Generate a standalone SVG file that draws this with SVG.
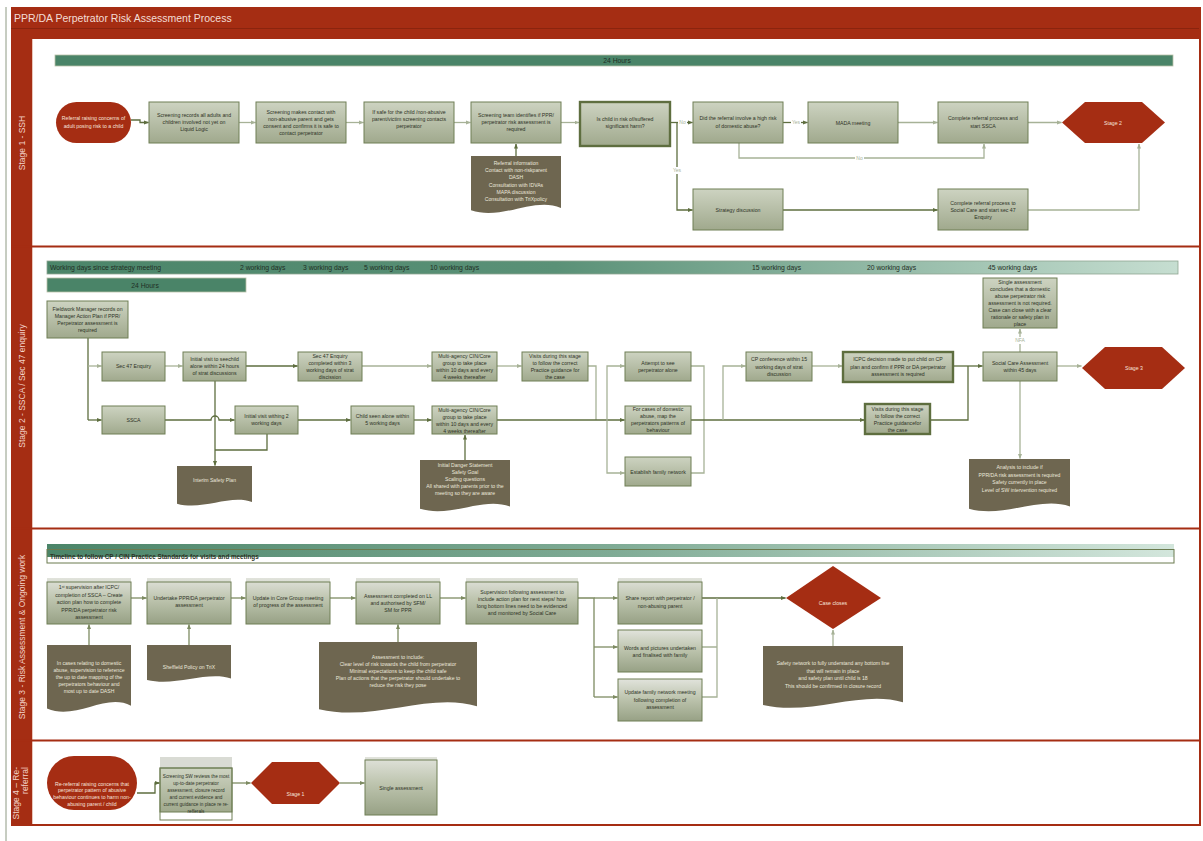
<svg xmlns="http://www.w3.org/2000/svg" width="1203" height="841" viewBox="0 0 1203 841">
<defs>
<linearGradient id="gBox" x1="0" y1="0" x2="0" y2="1"><stop offset="0" stop-color="#CDD3C1"/><stop offset="1" stop-color="#A0A98D"/></linearGradient>
<linearGradient id="gBox3" x1="0" y1="0" x2="0" y2="1"><stop offset="0" stop-color="#E1E3DC"/><stop offset="0.45" stop-color="#BEC5AF"/><stop offset="1" stop-color="#97A185"/></linearGradient>
<linearGradient id="gHdr" x1="0" y1="0" x2="1" y2="0"><stop offset="0" stop-color="#4B8569"/><stop offset="0.45" stop-color="#5A9177"/><stop offset="1" stop-color="#C6DED1"/></linearGradient>
<linearGradient id="gHdr3" x1="0" y1="0" x2="1" y2="0"><stop offset="0" stop-color="#4B8569"/><stop offset="0.5" stop-color="#7FAB95"/><stop offset="1" stop-color="#D3E6DC"/></linearGradient>
<marker id="aL" viewBox="0 0 10 10" refX="9" refY="5" markerWidth="5" markerHeight="5" markerUnits="userSpaceOnUse" orient="auto"><path d="M0,1 L10,5 L0,9 Z" fill="#A7B297"/></marker>
<marker id="aD" viewBox="0 0 10 10" refX="9" refY="5" markerWidth="5" markerHeight="5" markerUnits="userSpaceOnUse" orient="auto"><path d="M0,1 L10,5 L0,9 Z" fill="#5E6E3F"/></marker>
<marker id="aM" viewBox="0 0 10 10" refX="9" refY="5" markerWidth="5" markerHeight="5" markerUnits="userSpaceOnUse" orient="auto"><path d="M0,1 L10,5 L0,9 Z" fill="#7D8B62"/></marker>
</defs>
<style>
text{font-family:"Liberation Sans",Arial,sans-serif}
.t{font-size:5.2px;fill:#2E3326;text-anchor:middle}
.ts{font-size:4.7px;fill:#2E3326;text-anchor:middle}
.td{font-size:5.1px;fill:#ECE8DC;text-anchor:middle}
.tw{font-size:5.2px;fill:#F6E3DC;text-anchor:middle}
.lane{font-size:8.5px;fill:#F2D2C8}
.lbl{font-size:5px;fill:#A7B297;text-anchor:middle}
.hdr{font-size:6.8px;fill:#1F2F25}
.box{fill:url(#gBox);stroke:#6F7E55;stroke-width:1}
.boxk{fill:url(#gBox);stroke:#5E6E3F;stroke-width:2.4}
.b3{fill:url(#gBox3);stroke:none}
.f3{fill:none;stroke:#6F7E55;stroke-width:1}
.doc{fill:#6E6650}
.red{fill:#A52D13}
.cl{fill:none;stroke:#A7B297;stroke-width:1.3;marker-end:url(#aL)}
.cd{fill:none;stroke:#5E6E3F;stroke-width:1.3;marker-end:url(#aD)}
.cm{fill:none;stroke:#7D8B62;stroke-width:1.3;marker-end:url(#aM)}
.nl{fill:none;stroke:#A7B297;stroke-width:1.3}
.nd{fill:none;stroke:#5E6E3F;stroke-width:1.3}
.nm{fill:none;stroke:#7D8B62;stroke-width:1.3}
</style>

<!-- frame -->
<rect x="0" y="0" width="1203" height="841" fill="#FFFFFF"/>
<line x1="6" y1="7" x2="6" y2="841" stroke="#8E9A84" stroke-width="1"/>
<g id="lanes">
<rect x="11" y="7" width="1190" height="32" class="red"/>
<line x1="11" y1="28.5" x2="1201" y2="28.5" stroke="#8A240E" stroke-width="1"/>
<text x="14" y="22" font-size="10.5" fill="#F3DDD5">PPR/DA Perpetrator Risk Assessment Process</text>
<rect x="11" y="39" width="21" height="786" class="red"/>
<line x1="32.5" y1="39" x2="32.5" y2="825" stroke="#E9C6BA" stroke-width="1"/>
<line x1="1200" y1="7" x2="1200" y2="826" stroke="#A52D13" stroke-width="2"/>
<line x1="11" y1="246.5" x2="1201" y2="246.5" stroke="#A52D13" stroke-width="2"/>
<line x1="11" y1="528.5" x2="1201" y2="528.5" stroke="#A52D13" stroke-width="2"/>
<line x1="11" y1="740.5" x2="1201" y2="740.5" stroke="#A52D13" stroke-width="2"/>
<line x1="11" y1="825" x2="1201" y2="825" stroke="#A52D13" stroke-width="2"/>
<text class="lane" x="22" y="143" transform="rotate(-90 22 143)" text-anchor="middle" dominant-baseline="central">Stage 1 - SSH</text>
<text class="lane" x="22" y="386" transform="rotate(-90 22 386)" text-anchor="middle" dominant-baseline="central">Stage 2 - SSCA / Sec 47 enquiry</text>
<text class="lane" x="22" y="637" transform="rotate(-90 22 637)" text-anchor="middle" dominant-baseline="central">Stage 3 - Risk Assessment &amp; Ongoing work</text>
<text class="lane" transform="translate(19,767) rotate(-90)" text-anchor="end">Stage 4 – Re-</text>
<text class="lane" transform="translate(28,767) rotate(-90)" text-anchor="end">referral</text>
</g>

<!-- headers -->
<g id="hdr-s1">
<rect x="55" y="55" width="1118" height="11" fill="#4A8468" stroke="#B9C0A8" stroke-width="0.8"/>
<text class="hdr" x="617" y="62.8" text-anchor="middle">24 Hours</text>
</g>
<g id="hdr-s2">
<rect x="47" y="261" width="1131" height="13" fill="url(#gHdr)" stroke="#8FA592" stroke-width="0.8"/>
<text class="hdr" x="50" y="270">Working days since strategy meeting</text>
<text class="hdr" x="240" y="270">2 working days</text>
<text class="hdr" x="303" y="270">3 working days</text>
<text class="hdr" x="364" y="270">5 working days</text>
<text class="hdr" x="430" y="270">10 working days</text>
<text class="hdr" x="752" y="270">15 working days</text>
<text class="hdr" x="867" y="270">20 working days</text>
<text class="hdr" x="988" y="270">45 working days</text>
<rect x="47" y="278" width="199" height="14" fill="#4A8468" stroke="#B9C0A8" stroke-width="0.8"/>
<text class="hdr" x="145" y="288" text-anchor="middle">24 Hours</text>
</g>
<g id="hdr-s3">
<rect x="47" y="544" width="1127" height="13" fill="url(#gHdr3)"/>
<rect x="47" y="549.5" width="1127" height="13.5" fill="none" stroke="#6B7B4F" stroke-width="1"/>
<text x="50" y="559" font-size="6.3" font-weight="bold" fill="#2E3326">Timeline to follow CP / CIN Practice Standards for visits and meetings</text>
</g>

<!-- connectors -->
<g id="connectors">
<!-- stage 1 -->
<path class="cd" d="M131,120 H140 V122.5 H148.5"/>
<path class="cl" d="M239,122.5 H255.5"/>
<path class="cl" d="M346,122.5 H363.5"/>
<path class="cl" d="M454,122.5 H470.5"/>
<path class="cl" d="M561,122.5 H579"/>
<path class="cd" d="M516,156 V144"/>
<path class="cd" d="M670,122.5 H692.5"/>
<path class="cd" d="M677,122.5 V210 H692.5"/>
<path class="cd" d="M783,122.5 H807.5"/>
<path class="cl" d="M739,143 V158 H984 V144"/>
<path class="cl" d="M898,122.5 H937.5"/>
<path class="cl" d="M1028,122.5 H1061.5"/>
<path class="cd" d="M783,210 H937.5"/>
<path class="cl" d="M1028,210 H1139 V144"/>
<rect x="678" y="119" width="9" height="7" fill="#FFFFFF"/><text class="lbl" x="682.5" y="124.3">No</text>
<rect x="672" y="167" width="10" height="7" fill="#FFFFFF"/><text class="lbl" x="677" y="172.3">Yes</text>
<rect x="791" y="119" width="10" height="7" fill="#FFFFFF"/><text class="lbl" x="796" y="124.3">Yes</text>
<rect x="855" y="155" width="9" height="7" fill="#FFFFFF"/><text class="lbl" x="859.5" y="160.3">No</text>
<!-- stage 2 -->
<path class="nd" d="M88,338 V420"/>
<path class="cl" d="M88,366 H101.5"/>
<path class="cd" d="M88,420 H101.5"/>
<path class="cl" d="M165,366 H182.5"/>
<path class="cd" d="M246,366 H297.5" stroke-width="2"/>
<path class="cl" d="M362,366 H431.5"/>
<path class="cd" d="M215,381 V465.5"/>
<path class="cd" d="M165,420 H211 A4,4 0 0 1 219,420 H234.5"/>
<path class="nd" d="M267,434 V450 H215"/>
<path class="cd" d="M298,420 H350.5"/>
<path class="cd" d="M414,420 H431.5"/>
<path class="cd" d="M465,460 V435"/>
<path class="cl" d="M497,366 H521.5"/>
<path class="nl" d="M588,366 H596 V420"/>
<path class="cd" d="M497,420 H624.5"/>
<path class="cl" d="M607,420 V366 H624.5"/>
<path class="cl" d="M607,420 V473 H624.5"/>
<path class="nl" d="M691,366 H704 V473 H691"/>
<path class="cd" d="M691,420 H864.5"/>
<path class="cl" d="M723,420 V366 H745.5"/>
<path class="cl" d="M812,366 H842.5"/>
<path class="cd" d="M953,366 H982.5"/>
<path class="nd" d="M930,420 H968 V366"/>
<path class="cl" d="M1020,352 V329"/>
<rect x="1014" y="337" width="12" height="7" fill="#FFFFFF"/><text class="lbl" x="1020" y="342.3">NFA</text>
<path class="cl" d="M1057,366 H1081.5"/>
<path class="cl" d="M1020,381 V458.5"/>
<!-- stage 3 -->
<path class="cm" d="M131,598 H146.5"/>
<path class="cm" d="M231,598 H245.5"/>
<path class="cm" d="M330,598 H355.5"/>
<path class="cm" d="M440,598 H465.5"/>
<path class="nm" d="M578,598 H594 V697"/>
<path class="cm" d="M594,598 H617.5"/>
<path class="cm" d="M594,647 H617.5"/>
<path class="cm" d="M594,697 H617.5"/>
<path class="cd" d="M702,598 H785.5"/>
<path class="nl" d="M702,647 H717 M702,697 H717 V598"/>
<path class="cm" d="M89,645 V624.5"/>
<path class="cm" d="M189,645 V624.5"/>
<path class="cm" d="M398,642 V624.5"/>
<path class="cl" d="M833,646 V630"/>
<!-- stage 4 -->
<path class="cd" d="M137,793 H155 V783 H159.5"/>
<path class="cm" d="M232,783 H250.5"/>
<path class="cm" d="M340,783 H364.5"/>
</g>

<!-- Stage 1 nodes -->
<g id="s1-start"><rect x="56" y="102" width="75" height="41" rx="20.5" class="red"/>
<text class="tw"><tspan x="93.5" y="120">Referral raising concerns of</tspan><tspan x="93.5" y="127.5">adult posing risk to a child</tspan></text></g>
<g id="s1-screening-records"><rect x="149" y="102" width="90" height="41" class="box"/>
<text class="t"><tspan x="194" y="117.3">Screening records all adults and</tspan><tspan x="194" y="124.3">children involved not yet on</tspan><tspan x="194" y="131.3">Liquid Logic</tspan></text></g>
<g id="s1-screening-contact"><rect x="256" y="102" width="90" height="41" class="box"/>
<text class="t"><tspan x="301" y="113.8">Screening makes contact with</tspan><tspan x="301" y="120.8">non-abusive parent and gets</tspan><tspan x="301" y="127.8">consent and confirms it is safe to</tspan><tspan x="301" y="134.8">contact perpetrator</tspan></text></g>
<g id="s1-if-safe"><rect x="364" y="102" width="90" height="41" class="box"/>
<text class="t"><tspan x="409" y="113.8">If safe for the child /non-abusive</tspan><tspan x="409" y="120.8">parent/victim screening contacts</tspan><tspan x="409" y="127.8">perpetrator</tspan></text></g>
<g id="s1-identifies"><rect x="471" y="102" width="90" height="41" class="box"/>
<text class="t"><tspan x="516" y="117.3">Screening team identifies if PPR/</tspan><tspan x="516" y="124.3">perpetrator risk assessment is</tspan><tspan x="516" y="131.3">required</tspan></text></g>
<g id="s1-harm"><rect x="580" y="102" width="90" height="44" class="boxk"/>
<text class="t"><tspan x="625" y="120.5">Is child in risk of/suffered</tspan><tspan x="625" y="128">significant harm?</tspan></text></g>
<g id="s1-high-risk"><rect x="693" y="102" width="90" height="41" class="box"/>
<text class="t"><tspan x="738" y="120">Did the referral involve a high risk</tspan><tspan x="738" y="127.5">of domestic abuse?</tspan></text></g>
<g id="s1-mada"><rect x="808" y="102" width="90" height="41" class="box"/>
<text class="t" x="853" y="124.5">MADA meeting</text></g>
<g id="s1-complete-ssca"><rect x="938" y="102" width="90" height="41" class="box"/>
<text class="t"><tspan x="983" y="120">Complete referral process and</tspan><tspan x="983" y="127.5">start SSCA</tspan></text></g>
<g id="s1-stage2"><polygon points="1062,122.5 1085,102 1142,102 1165,122.5 1142,143 1085,143" class="red"/>
<text class="tw" x="1113" y="124.5">Stage 2</text></g>
<g id="s1-strategy"><rect x="693" y="189" width="90" height="41" class="box"/>
<text class="t" x="738" y="212">Strategy discussion</text></g>
<g id="s1-complete-sc"><rect x="938" y="189" width="90" height="41" class="box"/>
<text class="t"><tspan x="983" y="205">Complete referral process to</tspan><tspan x="983" y="212">Social Care and start sec 47</tspan><tspan x="983" y="219">Enquiry</tspan></text></g>
<g id="s1-doc"><path class="doc" d="M471,156 H561 V207.9 C534,196.1 502.5,220.9 471,210.3 Z"/>
<text class="td"><tspan x="516" y="165">Referral information</tspan><tspan x="516" y="172.2">Contact with non-riskparent</tspan><tspan x="516" y="179.4">DASH</tspan><tspan x="516" y="186.6">Consultation with IDVAs</tspan><tspan x="516" y="193.8">MAPA discussion</tspan><tspan x="516" y="201">Consultation with TriXpolicy</tspan></text></g>

<!-- Stage 2 nodes -->
<g id="s2-fieldwork"><rect x="47" y="301" width="81" height="37" class="box"/>
<text class="t"><tspan x="87.5" y="310.8">Fieldwork Manager records on</tspan><tspan x="87.5" y="317.8">Manager Action Plan if PPR/</tspan><tspan x="87.5" y="324.8">Perpetrator assessment is</tspan><tspan x="87.5" y="331.8">required</tspan></text></g>
<g id="s2-sec47"><rect x="102" y="352" width="63" height="29" class="box"/>
<text class="t" x="133.5" y="368.3">Sec 47 Enquiry</text></g>
<g id="s2-initial-visit"><rect x="183" y="352" width="63" height="29" class="box"/>
<text class="t"><tspan x="214.5" y="361">Initial visit to seechild</tspan><tspan x="214.5" y="368">alone within 24 hours</tspan><tspan x="214.5" y="375">of strat discussions</tspan></text></g>
<g id="s2-sec47-completed"><rect x="298" y="352" width="64" height="29" class="box"/>
<text class="t"><tspan x="330" y="357.8">Sec 47 Enquiry</tspan><tspan x="330" y="364.8">completed within 3</tspan><tspan x="330" y="371.8">working days of strat</tspan><tspan x="330" y="378.8">discission</tspan></text></g>
<g id="s2-ssca"><rect x="102" y="406" width="63" height="28" class="box"/>
<text class="t" x="133.5" y="421.8">SSCA</text></g>
<g id="s2-initial-visit2"><rect x="235" y="406" width="63" height="28" class="box"/>
<text class="t"><tspan x="266.5" y="417.5">Initial visit withing 2</tspan><tspan x="266.5" y="424.5">working days</tspan></text></g>
<g id="s2-child-seen"><rect x="351" y="406" width="63" height="28" class="box"/>
<text class="t"><tspan x="382.5" y="417.5">Child seen alone within</tspan><tspan x="382.5" y="424.5">5 working days</tspan></text></g>
<g id="s2-interim"><path class="doc" d="M177,466 H252 V502.1 C229.5,493.9 203.3,511.1 177,503.7 Z"/>
<text class="td" x="214.5" y="482">Interim Safety Plan</text></g>
<g id="s2-multi-top"><rect x="432" y="352" width="65" height="29" class="box"/>
<text class="t"><tspan x="464.5" y="357.8">Multi-agency CIN/Core</tspan><tspan x="464.5" y="364.8">group to take place</tspan><tspan x="464.5" y="371.8">within 10 days and every</tspan><tspan x="464.5" y="378.8">4 weeks thereafter</tspan></text></g>
<g id="s2-multi-bottom"><rect x="432" y="406" width="65" height="28" class="box"/>
<text class="t"><tspan x="464.5" y="412">Multi-agency CIN/Core</tspan><tspan x="464.5" y="419">group to take place</tspan><tspan x="464.5" y="426">within 10 days and every</tspan><tspan x="464.5" y="433">4 weeks thereafter</tspan></text></g>
<g id="s2-visits-top"><rect x="522" y="352" width="66" height="29" class="box"/>
<text class="t"><tspan x="555" y="357.8">Visits during this stage</tspan><tspan x="555" y="364.8">to follow the correct</tspan><tspan x="555" y="371.8">Practice guidance for</tspan><tspan x="555" y="378.8">the case</tspan></text></g>
<g id="s2-danger"><path class="doc" d="M420,460 H510 V506.6 C483,496 451.5,518.3 420,508.8 Z"/>
<text class="td"><tspan x="465" y="467">Initial Danger Statement</tspan><tspan x="465" y="474">Safety Goal</tspan><tspan x="465" y="481">Scaling questions</tspan><tspan x="465" y="488">All shared with parents prior to the</tspan><tspan x="465" y="495">meeting so they are aware</tspan></text></g>
<g id="s2-attempt"><rect x="625" y="352" width="66" height="29" class="box"/>
<text class="t"><tspan x="658" y="365">Attempt to see</tspan><tspan x="658" y="372">perpetrator alone</tspan></text></g>
<g id="s2-for-cases"><rect x="625" y="406" width="66" height="28" class="box"/>
<text class="t"><tspan x="658" y="411">For cases of domestic</tspan><tspan x="658" y="418">abuse, map the</tspan><tspan x="658" y="425">perpetrators patterns of</tspan><tspan x="658" y="432">behaviour</tspan></text></g>
<g id="s2-establish"><rect x="625" y="457" width="66" height="29" class="box"/>
<text class="t" x="658" y="473.8">Establish family network</text></g>
<g id="s2-cp-conf"><rect x="746" y="352" width="66" height="29" class="box"/>
<text class="t"><tspan x="779" y="361">CP conference within 15</tspan><tspan x="779" y="368.5">working days of strat</tspan><tspan x="779" y="376">discussion</tspan></text></g>
<g id="s2-icpc"><rect x="843" y="352" width="110" height="30" class="boxk"/>
<text class="t"><tspan x="898" y="361">ICPC decision made to put child on CP</tspan><tspan x="898" y="368.5">plan and confirm if PPR or DA perpetrator</tspan><tspan x="898" y="376">assessment is required</tspan></text></g>
<g id="s2-visits-bottom"><rect x="865" y="404" width="65" height="30" class="boxk"/>
<text class="t"><tspan x="897.5" y="411">Visits during this stage</tspan><tspan x="897.5" y="418">to follow the correct</tspan><tspan x="897.5" y="425">Practice guidancefor</tspan><tspan x="897.5" y="432">the case</tspan></text></g>
<g id="s2-sca"><rect x="983" y="352" width="74" height="29" class="box"/>
<text class="t"><tspan x="1020" y="365">Social Care Assessment</tspan><tspan x="1020" y="372">within 45 days</tspan></text></g>
<g id="s2-single"><rect x="983" y="278" width="74" height="50" class="box"/>
<text class="t"><tspan x="1020" y="283.8">Single assessment</tspan><tspan x="1020" y="290.8">concludes that a domestic</tspan><tspan x="1020" y="297.8">abuse perpetrator risk</tspan><tspan x="1020" y="304.8">assessment is not required.</tspan><tspan x="1020" y="311.8">Case can close with a clear</tspan><tspan x="1020" y="318.8">rationale or safety plan in</tspan><tspan x="1020" y="325.8">place</tspan></text></g>
<g id="s2-stage3"><polygon points="1082,368 1105,347 1162,347 1185,368 1162,389 1105,389" class="red"/>
<text class="tw" x="1134" y="370">Stage 3</text></g>
<g id="s2-analysis"><path class="doc" d="M969,459 H1070 V506.5 C1039.7,495.7 1004.4,518.4 969,508.7 Z"/>
<text class="td"><tspan x="1019.5" y="469">Analysis to include if</tspan><tspan x="1019.5" y="476.5">PPR/DA risk assessment is required</tspan><tspan x="1019.5" y="484">Safety currently in place</tspan><tspan x="1019.5" y="491.5">Level of SW intervention required</tspan></text></g>

<!-- Stage 3 nodes -->
<g id="s3-supervision1"><rect x="47" y="578" width="84" height="46" class="b3"/><rect x="47" y="582" width="84" height="42" class="f3"/>
<text class="t"><tspan x="89" y="589">1<tspan font-size="3.5" dy="-1.5">st</tspan><tspan dy="1.5"> supervision after ICPC/</tspan></tspan><tspan x="89" y="596.5">completion of SSCA – Create</tspan><tspan x="89" y="604">action plan how to complete</tspan><tspan x="89" y="611.5">PPR/DA perpetrator risk</tspan><tspan x="89" y="619">assessment</tspan></text></g>
<g id="s3-undertake"><rect x="147" y="578" width="84" height="46" class="b3"/><rect x="147" y="582" width="84" height="42" class="f3"/>
<text class="t"><tspan x="189" y="599.5">Undertake PPR/DA perpetrator</tspan><tspan x="189" y="607">assessment</tspan></text></g>
<g id="s3-update-core"><rect x="246" y="578" width="84" height="46" class="b3"/><rect x="246" y="582" width="84" height="42" class="f3"/>
<text class="t"><tspan x="288" y="599.5">Update in Core Group meeting</tspan><tspan x="288" y="607">of progress of the assessment</tspan></text></g>
<g id="s3-completed-ll"><rect x="356" y="578" width="84" height="46" class="b3"/><rect x="356" y="582" width="84" height="42" class="f3"/>
<text class="t"><tspan x="398" y="598">Assessment completed on LL</tspan><tspan x="398" y="605">and authorised by SFM/</tspan><tspan x="398" y="612">SM for PPR</tspan></text></g>
<g id="s3-supervision2"><rect x="466" y="578" width="112" height="46" class="b3"/><rect x="466" y="582" width="112" height="42" class="f3"/>
<text class="t"><tspan x="522" y="593.5">Supervision following assessment to</tspan><tspan x="522" y="600.5">include action plan for next steps/ how</tspan><tspan x="522" y="607.5">long bottom lines need to be evidenced</tspan><tspan x="522" y="614.5">and monitored by Social Care</tspan></text></g>
<g id="s3-share"><rect x="618" y="578" width="84" height="46" class="b3"/><rect x="618" y="582" width="84" height="42" class="f3"/>
<text class="t"><tspan x="660" y="600">Share report with perpetrator /</tspan><tspan x="660" y="607.5">non-abusing parent</tspan></text></g>
<g id="s3-words"><rect x="618" y="630" width="84" height="42" class="b3"/><rect x="618" y="630" width="84" height="42" class="f3"/>
<text class="t"><tspan x="660" y="649.5">Words and pictures undertaken</tspan><tspan x="660" y="657">and finalised with family</tspan></text></g>
<g id="s3-update-family"><rect x="618" y="679" width="84" height="42" class="b3"/><rect x="618" y="679" width="84" height="42" class="f3"/>
<text class="t"><tspan x="660" y="694">Update family network meeting</tspan><tspan x="660" y="701.5">following completion of</tspan><tspan x="660" y="709">assessment</tspan></text></g>
<g id="s3-case-closes"><polygon points="786,598 833,566 881,598 833,629" class="red"/>
<text class="tw" x="833" y="604.5">Case closes</text></g>
<g id="s3-doc1"><path class="doc" d="M47,645 H131 V705.7 C105.8,691.9 76.4,720.9 47,708.5 Z"/>
<text class="td"><tspan x="89" y="664.5">In cases relating to domestic</tspan><tspan x="89" y="671.5">abuse, supervision to reference</tspan><tspan x="89" y="679">the up to date mapping of the</tspan><tspan x="89" y="686">perpetrators behaviour and</tspan><tspan x="89" y="693">most up to date DASH</tspan></text></g>
<g id="s3-doc2"><path class="doc" d="M147,645 H231 V678.4 C205.8,670.8 176.4,686.8 147,680 Z"/>
<text class="td" x="189" y="668.5">Sheffield Policy on TriX</text></g>
<g id="s3-doc3"><path class="doc" d="M319,642 H477 V706.2 C429.6,691.6 374.3,722.3 319,709.2 Z"/>
<text class="td"><tspan x="398" y="658.5">Assessment to include:</tspan><tspan x="398" y="665.5">Clear level of risk towards the child from perpetrator</tspan><tspan x="398" y="672.5">Minimal expectations to keep the child safe</tspan><tspan x="398" y="679.5">Plan of actions that the perpetrator should undertake to</tspan><tspan x="398" y="686.5">reduce the risk they pose</tspan></text></g>
<g id="s3-doc4"><path class="doc" d="M763,646 H903 V702.3 C861,689.5 812,716.4 763,704.9 Z"/>
<text class="td"><tspan x="833" y="665">Safety network to fully understand any bottom line</tspan><tspan x="833" y="672.5">that will remain in place</tspan><tspan x="833" y="680">and safety plan until child is 18</tspan><tspan x="833" y="687.5">This should be confirmed in closure record</tspan></text></g>

<!-- Stage 4 nodes -->
<g id="s4-start"><rect x="47" y="756" width="90" height="54" rx="27" class="red"/>
<text class="tw"><tspan x="92" y="785.5">Re-referral raising concerns that</tspan><tspan x="92" y="792.2">perpetrator pattern of abusive</tspan><tspan x="92" y="798.9">behaviour continues to harm non-</tspan><tspan x="92" y="805.6">abusing parent / child</tspan></text></g>
<g id="s4-screening"><rect x="160" y="757" width="72" height="11" fill="#D9DBD4"/><rect x="160" y="768" width="72" height="44" class="box"/><rect x="160" y="768" width="72" height="52" class="f3" stroke="#A7B297"/>
<text class="ts"><tspan x="196" y="778">Screening SW reviews the most</tspan><tspan x="196" y="785">up-to-date perpetrator</tspan><tspan x="196" y="792">assessment, closure record</tspan><tspan x="196" y="799">and current evidence and</tspan><tspan x="196" y="806">current guidance in place re re-</tspan><tspan x="196" y="813">refferals</tspan></text></g>
<g id="s4-stage1"><polygon points="251,783 272,762 319,762 340,783 319,804 272,804" class="red"/>
<text class="tw" x="295.5" y="796">Stage 1</text></g>
<g id="s4-single"><rect x="365" y="757" width="72" height="58" class="b3"/><rect x="365" y="760" width="72" height="55" class="f3"/>
<text class="t" x="401" y="789.5">Single assessment</text></g>
</svg>
